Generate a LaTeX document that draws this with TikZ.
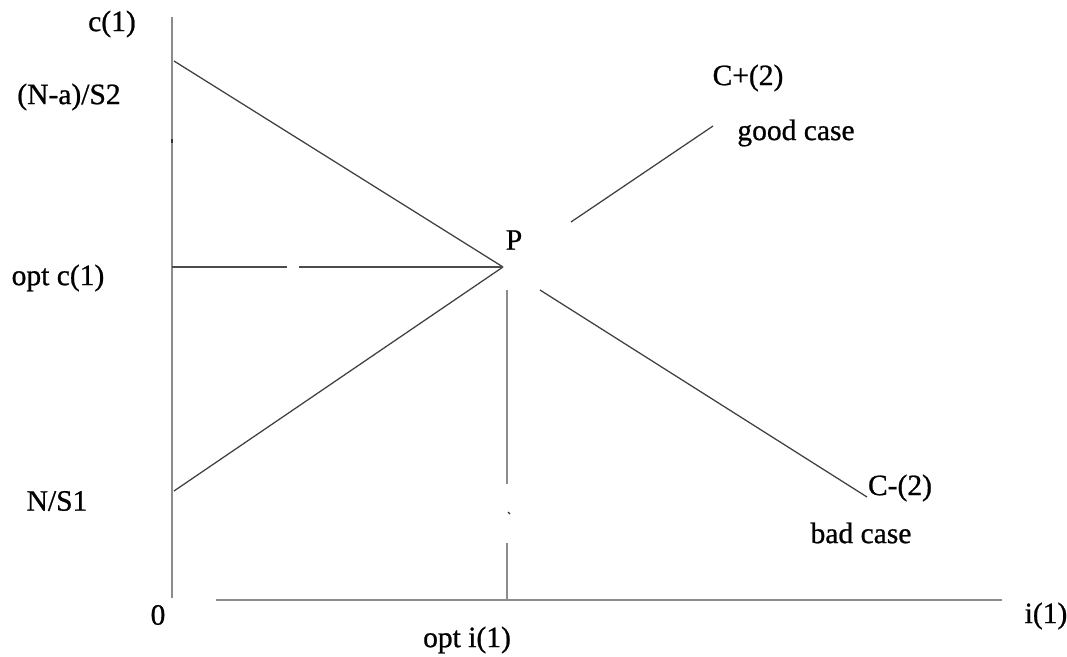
\documentclass[tikz,border=0pt]{standalone}
\usepackage{fontspec}
\setmainfont{Liberation Serif}
\newfontface\lblface{Liberation Serif}[FakeBold=0.8]
\usetikzlibrary{positioning}
\tikzset{
  axis/.style={line width=1.4pt, black!45},
  curve/.style={line width=0.9pt, black!75},
  guide/.style={line width=0.9pt, black!70},
  lbl/.style={inner sep=0pt, font=\lblface\fontsize{21}{25}\selectfont},
}
\begin{document}
\begin{tikzpicture}[x=0.025cm, y=-0.025cm]
\useasboundingbox (0,0) rectangle (1067,657);
% axes
\coordinate (ytop) at (172,17);
\coordinate (ybot) at (172,598);
\coordinate (xleft) at (216,600);
\coordinate (xright) at (1002,600);
\draw[axis] (ytop) -- (ybot);
\draw[axis] (xleft) -- (xright);
% lines through P
\coordinate (P) at (503,267);
\coordinate (hiS2) at (174,61);
\coordinate (loS1) at (174,491);
\draw[curve] (hiS2) -- (P);
\draw[curve] (loS1) -- (P);
\coordinate (gA) at (571,222);
\coordinate (gB) at (713,126);
\draw[curve] (gA) -- (gB);
\coordinate (bA) at (540,290);
\coordinate (bB) at (867,497);
\draw[curve] (bA) -- (bB);
% optimum guides
\coordinate (hA) at (172,267);
\coordinate (hB) at (287,267);
\coordinate (hC) at (299,267);
\draw[guide] (hA) -- (hB);
\draw[guide] (hC) -- (P);
\coordinate (vA) at (507,290);
\coordinate (vB) at (507,484);
\coordinate (vC) at (507,543);
\coordinate (vD) at (507,600);
\draw[axis] (vA) -- (vB);
\draw[axis] (vC) -- (vD);
\draw[line width=0.9pt, black!80] (508,512) -- (510,514);
\draw[line width=0.9pt, black!80] (172,139) -- (172,143);
% labels
\node[lbl] (cax) at (112,24) {c(1)};
\node[lbl] (s2) at (69,97) {(N-a)/S2};
\node[lbl] (optc) at (58,278) {opt c(1)};
\node[lbl] (s1) at (57,501) {N/S1};
\node[lbl] (zero) at (158,615) {0};
\node[lbl] (plbl) at (514,240) {P};
\node[lbl] (cplus) at (748,78) {C+(2)};
\node[lbl] (good) at (796,133) {good case};
\node[lbl] (cminus) at (900,488) {C-(2)};
\node[lbl] (bad) at (861,533) {bad case};
\node[lbl] (opti) at (467,640) {opt i(1)};
\node[lbl] (iax) at (1046,616) {i(1)};
\end{tikzpicture}
\end{document}
